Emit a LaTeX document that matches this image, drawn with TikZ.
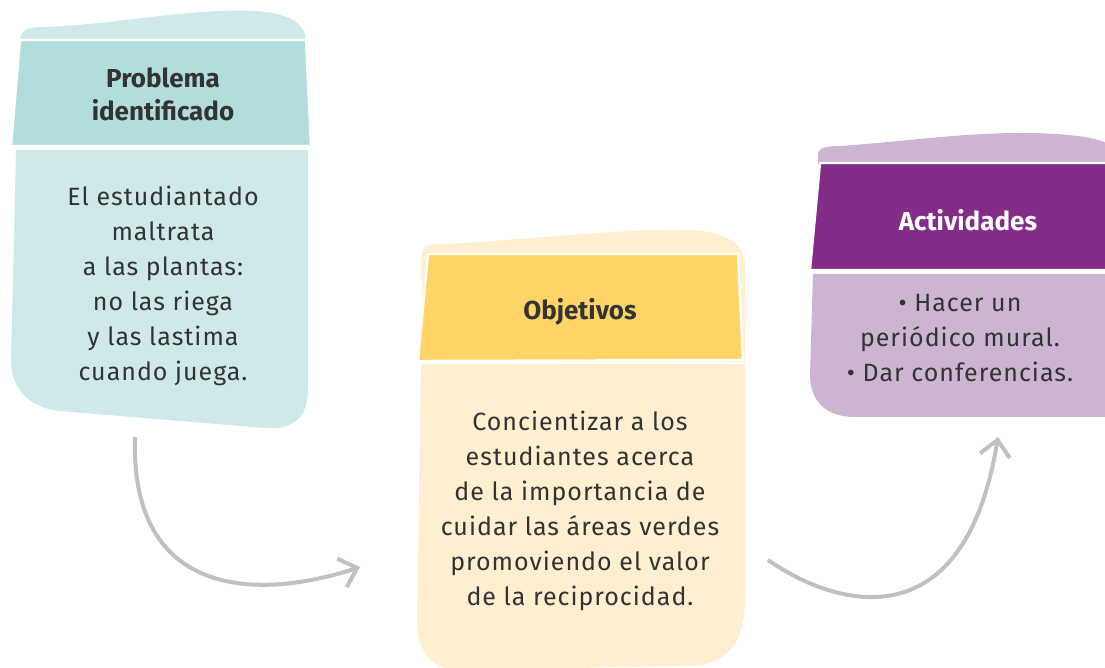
\documentclass[tikz,border=0pt]{standalone}
\usepackage{fontspec}
\setmainfont{Fira Sans}
\newfontfamily\bodyfont[LetterSpace=4]{Fira Sans}
\usetikzlibrary{arrows.meta}
\definecolor{tealH}{HTML}{B1DEDD}
\definecolor{tealL}{HTML}{CFE9EA}
\definecolor{yelH}{HTML}{FED467}
\definecolor{yelL}{HTML}{FFEFD1}
\definecolor{purH}{HTML}{842D88}
\definecolor{purL}{HTML}{CDB4D3}
\definecolor{arrowgrey}{HTML}{C0C0C3}
\definecolor{ink}{HTML}{333333}
\tikzset{
  hdr/.style={draw=white, line width=1.2pt},
  hdrtext/.style={align=center, text=ink, font=\fontsize{13}{16.5}\selectfont\bfseries},
  bodytext/.style={align=center, text=ink, font=\bodyfont\fontsize{12.5}{17.5}\selectfont},
  flow/.style={draw=arrowgrey, line width=2pt, -{Straight Barb[length=8pt,width=15pt,line width=2pt]}}
}
\begin{document}
\begin{tikzpicture}[x=0.5pt,y=-0.5pt]
\useasboundingbox (0,0) rectangle (1105,668);
\begin{scope}
\clip (0,0) rectangle (1105,668);
% card 1
\fill[tealL] (20,42) .. controls (20,30) and (26,27) .. (45,27) .. controls (120,24) and (190,8) .. (255,11) .. controls (300,14) and (306,30) .. (306,42) -- cycle;
\filldraw[tealH, hdr] (20,40) -- (306,40) -- (311,146) -- (11,146) -- cycle;
\fill[tealL] (16,150) -- (308,150) -- (308,390) .. controls (308,420) and (290,430) .. (265,428) -- (60,411) .. controls (30,408) and (11,390) .. (11,360) -- cycle;
% card 2
\fill[yelL] (422,262) -- (422,255) .. controls (422,245) and (430,244) .. (445,244) .. controls (530,240) and (620,228) .. (690,230) .. controls (735,232) and (745,250) .. (745,265) -- (745,362) -- (422,362) -- cycle;
\filldraw[yelH, hdr] (428,254) -- (738,254) -- (743,360) -- (418,361) -- cycle;
\fill[yelL] (421,364) -- (745,364) -- (745,600) .. controls (745,650) and (720,665) .. (690,666) -- (460,670) .. controls (430,670) and (417,650) .. (417,620) -- cycle;
% card 3
\fill[purL] (818,165) -- (818,155) .. controls (818,148) and (825,146) .. (840,146) .. controls (900,142) and (960,133) .. (1020,133) .. controls (1070,133) and (1100,138) .. (1110,145) -- (1110,165) -- cycle;
\filldraw[purH, hdr] (820,163) -- (1112,163) -- (1112,270) -- (810,270) -- cycle;
\fill[purL] (813,274) -- (1110,274) -- (1110,417) -- (855,417) .. controls (825,417) and (810,400) .. (810,375) -- cycle;
\end{scope}
% texts
\node[hdrtext] (h1) at (163,94) {Problema\\identificado};
\node[bodytext] (b1) at (163,286) {El estudiantado\\maltrata\\a las plantas:\\no las riega\\y las lastima\\cuando juega.};
\node[hdrtext] (h2) at (580,312) {Objetivos};
\node[bodytext] (b2) at (580,511) {Concientizar a los\\estudiantes acerca\\de la importancia de\\cuidar las áreas verdes\\promoviendo el valor\\de la reciprocidad.};
\node[hdrtext, text=white] (h3) at (968,220) {Actividades};
\node[bodytext] (b3) at (960,338) {\textbullet{} Hacer un\\periódico mural.\\\textbullet{} Dar conferencias.};
% arrows
\coordinate (a1s) at (135,437);
\coordinate (a1e) at (360,567);
\coordinate (a2s) at (768,560);
\coordinate (a2e) at (998,437);
\draw[flow] (a1s) .. controls (130,600) and (260,600) .. (a1e);
\draw[flow] (a2s) .. controls (840,610) and (965,640) .. (a2e);
\end{tikzpicture}
\end{document}
